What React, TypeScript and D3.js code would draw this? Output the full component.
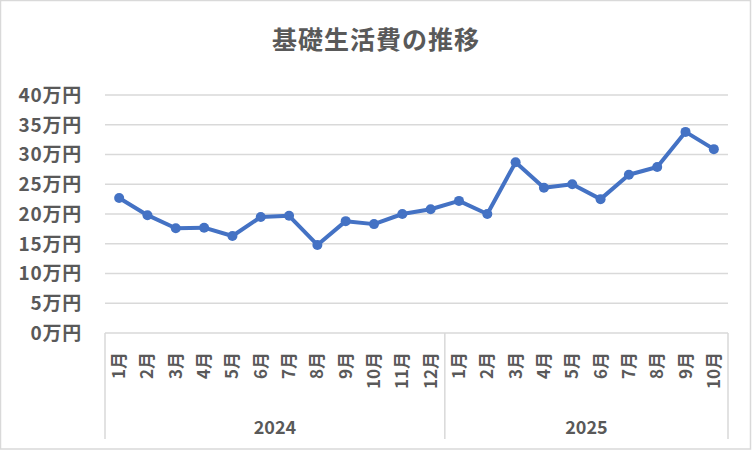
import { useEffect, useRef } from "react";
import * as d3 from "d3";

const years = ["2024", "2025"];
const months2024 = ["1月", "2月", "3月", "4月", "5月", "6月", "7月", "8月", "9月", "10月", "11月", "12月"];
const months2025 = ["1月", "2月", "3月", "4月", "5月", "6月", "7月", "8月", "9月", "10月"];
// 万円
const values2024 = [22.7, 19.8, 17.6, 17.7, 16.3, 19.5, 19.7, 14.8, 18.8, 18.3, 20.0, 20.8];
const values2025 = [22.2, 20.0, 28.7, 24.4, 25.0, 22.5, 26.6, 27.9, 33.8, 30.9];
const yTicks = [0, 5, 10, 15, 20, 25, 30, 35, 40];

const BLUE = "#4472C4";
const GRID = "#d9d9d9";
const TEXT = "#595959";
const FONT = "'Noto Sans CJK JP', 'Noto Sans', sans-serif";

type Point = { key: string; year: string; month: string; value: number };

const points: Point[] = [
  ...months2024.map((m, i) => ({ key: `2024-${m}`, year: years[0], month: m, value: values2024[i] })),
  ...months2025.map((m, i) => ({ key: `2025-${m}`, year: years[1], month: m, value: values2025[i] })),
];

export default function App() {
  const ref = useRef<SVGSVGElement>(null);

  useEffect(() => {
    document.body.style.margin = "0";
    if (!ref.current) return;
    const width = 752;
    const height = 452;
    const margin = { top: 95, right: 24, bottom: 119, left: 105 };

    const svg = d3.select(ref.current);
    svg.selectAll("*").remove();

    svg
      .append("rect")
      .attr("x", 0.5)
      .attr("y", 0.5)
      .attr("width", 750)
      .attr("height", 448.5)
      .attr("fill", "#fff")
      .attr("stroke", GRID)
      .attr("stroke-width", 1.5);

    svg
      .append("text")
      .attr("x", width / 2)
      .attr("y", 49)
      .attr("text-anchor", "middle")
      .attr("fill", TEXT)
      .attr("font-family", FONT)
      .attr("font-size", 25)
      .attr("font-weight", "bold")
      .attr("letter-spacing", 1)
      .text("基礎生活費の推移");

    const x = d3
      .scaleBand()
      .domain(points.map((d) => d.key))
      .range([margin.left, width - margin.right]);

    const y = d3
      .scaleLinear()
      .domain([0, 40])
      .range([height - margin.bottom, margin.top]);

    // gridlines
    svg
      .append("g")
      .attr("stroke", GRID)
      .attr("stroke-width", 1.5)
      .selectAll("line")
      .data(yTicks)
      .join("line")
      .attr("x1", margin.left)
      .attr("x2", width - margin.right)
      .attr("y1", (d) => y(d))
      .attr("y2", (d) => y(d));

    svg
      .append("g")
      .selectAll("text")
      .data(yTicks)
      .join("text")
      .attr("x", 82)
      .attr("y", (d) => y(d))
      .attr("dy", "0.36em")
      .attr("text-anchor", "end")
      .attr("fill", TEXT)
      .attr("font-family", FONT)
      .attr("font-size", 19)
      .attr("font-weight", "bold")
      .attr("letter-spacing", 0.8)
      .text((d) => `${d}万円`);

    // group separators
    const firstKey = points[0].key;
    const split = points.find((d) => d.year === years[1])!.key;
    const seps = [x(firstKey)!, x(split)!, x(points[points.length - 1].key)! + x.bandwidth()];
    svg
      .append("g")
      .attr("stroke", GRID)
      .attr("stroke-width", 1.5)
      .selectAll("line")
      .data(seps)
      .join("line")
      .attr("x1", (d) => d)
      .attr("x2", (d) => d)
      .attr("y1", y(0))
      .attr("y2", 439);

    svg
      .append("g")
      .selectAll("text")
      .data(points)
      .join("text")
      .attr("transform", (d) => `translate(${x(d.key)! + x.bandwidth() / 2 + 6},352) rotate(-90)`)
      .attr("text-anchor", "end")
      .attr("fill", TEXT)
      .attr("font-family", FONT)
      .attr("font-size", 17)
      .attr("font-weight", "bold")
      .text((d) => d.month);

    const yearCenters = years.map((yr) => {
      const ks = points.filter((d) => d.year === yr).map((d) => d.key);
      return { yr, cx: (x(ks[0])! + x(ks[ks.length - 1])! + x.bandwidth()) / 2 };
    });
    svg
      .append("g")
      .selectAll("text")
      .data(yearCenters)
      .join("text")
      .attr("x", (d) => d.cx)
      .attr("y", 434)
      .attr("text-anchor", "middle")
      .attr("fill", TEXT)
      .attr("font-family", FONT)
      .attr("font-size", 18)
      .attr("font-weight", "bold")
      .text((d) => d.yr);

    const line = d3
      .line<Point>()
      .x((d) => x(d.key)! + x.bandwidth() / 2)
      .y((d) => y(d.value));

    svg
      .append("path")
      .datum(points)
      .attr("d", line)
      .attr("fill", "none")
      .attr("stroke", BLUE)
      .attr("stroke-width", 4)
      .attr("stroke-linejoin", "round");

    svg
      .append("g")
      .selectAll("circle")
      .data(points)
      .join("circle")
      .attr("cx", (d) => x(d.key)! + x.bandwidth() / 2)
      .attr("cy", (d) => y(d.value))
      .attr("r", 5)
      .attr("fill", BLUE);
  }, []);

  return <svg ref={ref} width={752} height={452} style={{ display: "block" }} />;
}
